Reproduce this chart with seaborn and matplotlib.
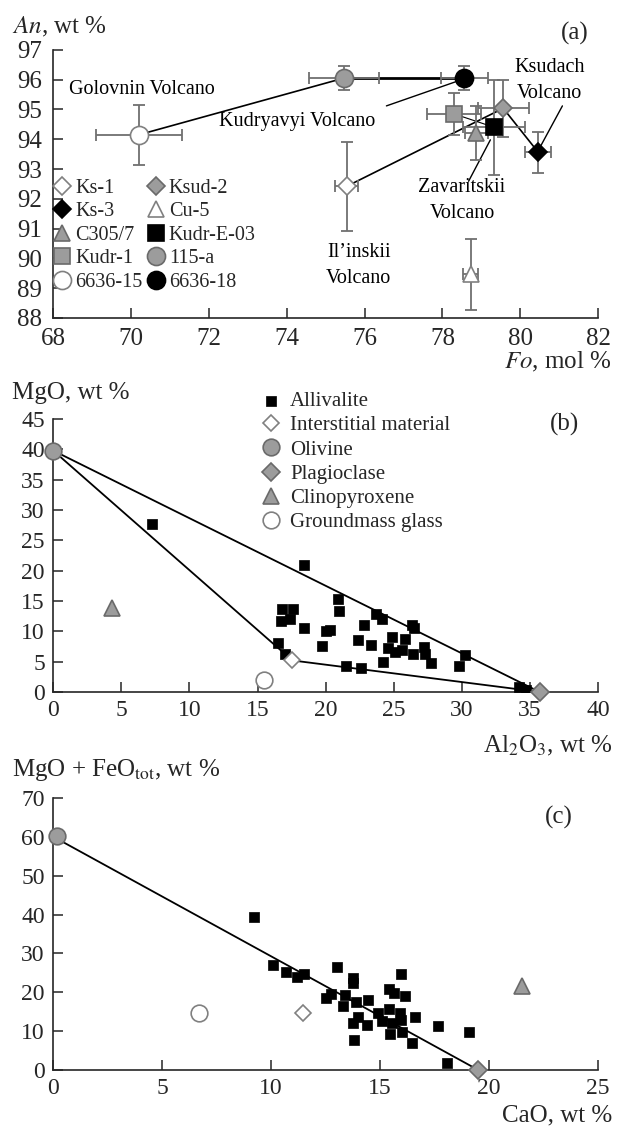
import numpy as np
import pandas as pd
import seaborn as sns
import matplotlib
matplotlib.use('Agg')
import matplotlib.pyplot as plt

# ---- panel (a): An vs Fo for individual samples
samples = ['Ks-1', 'Ks-3', 'C305/7', 'Kudr-1', '6636-15',
           'Ksud-2', 'Cu-5', 'Kudr-E-03', '115-a', '6636-18']
fo = [75.54, 80.46, 78.87, 78.30, 70.20, 79.56, 78.72, 79.33, 75.46, 78.56]
fo_err = [0.30, 0.33, 0.30, 0.70, 1.10, 0.65, 0.20, 0.80, 0.90, 0.60]
an = [92.42, 93.56, 94.20, 94.85, 94.15, 95.04, 89.46, 94.40, 96.05, 96.05]
an_err = [1.50, 0.70, 0.90, 0.70, 1.00, 0.95, 1.20, 1.60, 0.40, 0.40]

# ---- panel (b): MgO vs Al2O3
allv_al2o3 = [7.25, 18.4, 20.9, 20.95, 16.8, 17.6, 16.7, 17.4, 18.4, 20.3, 19.7, 16.5,
              17.0, 21.5, 22.6, 22.4, 22.8, 23.3, 24.1, 24.2, 24.9, 24.6, 25.1, 25.8,
              25.6, 26.5, 26.4, 27.2, 27.3, 27.7, 30.2, 29.8, 34.2, 34.7, 20.0, 23.7, 26.3]
allv_mgo = [27.7, 20.9, 15.3, 13.3, 13.6, 13.6, 11.7, 12.0, 10.5, 10.2, 7.5, 8.0,
            6.2, 4.2, 4.0, 8.5, 11.0, 7.7, 12.1, 5.0, 9.1, 7.2, 6.6, 8.8,
            7.0, 10.5, 6.3, 7.4, 6.3, 4.8, 6.1, 4.3, 0.8, 0.3, 10.1, 12.8, 11.0]
min_names = ['Interstitial material', 'Olivine', 'Plagioclase', 'Clinopyroxene', 'Groundmass glass']
min_al2o3 = [17.55, 0.0, 35.7, 4.3, 15.5]
min_mgo = [5.2, 39.8, 0.0, 13.8, 1.9]

# ---- panel (c): MgO+FeO vs CaO
allv_cao = [9.23, 10.09, 10.66, 11.2, 11.5, 13.0, 12.75, 12.5, 13.4, 13.3, 13.77, 13.77,
            13.9, 14.43, 13.77, 13.8, 14.0, 14.4, 14.9, 15.1, 15.4, 15.4, 15.65, 15.97,
            16.15, 15.44, 15.56, 15.97, 16.0, 16.6, 16.46, 17.66, 19.07, 18.08, 15.9]
allv_mgfe = [39.5, 26.9, 25.2, 23.9, 24.7, 26.6, 19.6, 18.6, 19.3, 16.5, 22.3, 23.6,
             17.6, 18.0, 12.0, 7.7, 13.7, 11.6, 14.6, 12.7, 15.6, 20.9, 19.7, 24.7,
             19.0, 9.2, 12.2, 13.0, 9.9, 13.7, 6.9, 11.3, 9.9, 1.7, 14.6]
min_cao = [11.44, 0.18, 19.5, 21.5, 6.68]
min_mgfe = [14.6, 60.1, 0.0, 21.6, 14.8]

GRAY = '#9c9c9c'
EDGE = '#6a6a6a'
OPEN = '#808080'

sns.set_style('ticks')
plt.rcParams['font.family'] = ['Liberation Serif', 'DejaVu Serif']
plt.rcParams['mathtext.fontset'] = 'stix'
plt.rcParams['axes.linewidth'] = 1.2

fig = plt.figure(figsize=(6.18, 11.34), dpi=100)
L, W = 0.086, 0.882
ax1 = fig.add_axes([L, 0.7196, W, 0.2364])
ax2 = fig.add_axes([L, 0.3898, W, 0.2407])
ax3 = fig.add_axes([L, 0.0564, W, 0.2399])

for ax in (ax1, ax2, ax3):
    sns.despine(ax=ax)
    ax.tick_params(direction='in', length=7, width=1.1, labelsize=17)
ax1.tick_params(labelsize=18)
ax1.tick_params(axis='x', pad=7)
ax1.tick_params(axis='y', pad=8)
for ax in (ax2, ax3):
    ax.tick_params(axis='x', pad=6)
    ax.tick_params(axis='y', pad=6)

# ---- (a)
style_a = {
    'Ks-1': ('D', 'white', OPEN, 9), 'Ks-3': ('D', 'black', 'black', 9),
    'C305/7': ('^', GRAY, EDGE, 12), 'Kudr-1': ('s', GRAY, EDGE, 12),
    '6636-15': ('o', 'white', OPEN, 13), 'Ksud-2': ('D', GRAY, EDGE, 9),
    'Cu-5': ('^', 'white', OPEN, 12), 'Kudr-E-03': ('s', 'black', 'black', 12),
    '115-a': ('o', GRAY, EDGE, 13), '6636-18': ('o', 'black', 'black', 13),
}
pos = dict(zip(samples, zip(fo, an)))

def link(a, b, lw=1.2):
    ax1.plot([pos[a][0], pos[b][0]], [pos[a][1], pos[b][1]], color='black', lw=lw, zorder=2)

link('6636-15', '115-a')
link('115-a', '6636-18', lw=2)
link('Ks-1', 'Ksud-2')
link('Ksud-2', 'Ks-3')
link('Kudr-1', 'Kudr-E-03', lw=0.8)

for s, x, xe, y, ye in zip(samples, fo, fo_err, an, an_err):
    m, fc, ec, ms = style_a[s]
    ax1.errorbar(x, y, xerr=xe, yerr=ye, fmt='none', ecolor='#707070',
                 elinewidth=1.3, capsize=4, capthick=1.3, zorder=3)
    ax1.plot(x, y, marker=m, ms=ms, mfc=fc, mec=ec, mew=1.2, ls='none',
             label=s, zorder=4)

ax1.set_xlim(68, 82)
ax1.set_ylim(88, 97)
ax1.set_xticks(np.arange(68, 83, 2))
ax1.set_yticks(np.arange(88, 98, 1))
ax1.legend(loc='upper left', bbox_to_anchor=(0.0, 0.52), ncol=2, frameon=False,
           fontsize=14.5, handlelength=0.9, handletextpad=0.2, columnspacing=0.2,
           labelspacing=0.22, borderpad=0, borderaxespad=0)

tk = dict(fontsize=14.5, color='black')
ax1.text(68.4, 95.66, 'Golovnin Volcano', va='center', ha='left', **tk)
ax1.text(74.26, 94.6, 'Kudryavyi Volcano', va='center', ha='center', **tk)
ax1.plot([76.56, 78.36], [95.12, 95.94], color='black', lw=1)
ax1.text(80.75, 95.97, 'Ksudach\nVolcano', va='center', ha='center', linespacing=1.5, **tk)
ax1.plot([81.08, 80.5], [95.12, 93.72], color='black', lw=1)
ax1.text(78.5, 91.93, 'Zavaritskii\nVolcano', va='center', ha='center', linespacing=1.5, **tk)
ax1.plot([78.67, 79.23], [92.59, 93.98], color='black', lw=1)
ax1.text(75.85, 89.77, 'Il\u2019inskii\nVolcano', va='center', ha='center', linespacing=1.5, **tk)
ax1.text(81.75, 97.55, '(a)', ha='right', va='center', fontsize=18, clip_on=False)

# ---- (b)
dfb = pd.DataFrame({'Al2O3': allv_al2o3, 'MgO': allv_mgo})
ol, plag, inter = (min_al2o3[1], min_mgo[1]), (min_al2o3[2], min_mgo[2]), (min_al2o3[0], min_mgo[0])
ax2.plot([ol[0], inter[0], plag[0], ol[0]], [ol[1], inter[1], plag[1], ol[1]],
         color='black', lw=1.3, zorder=2)
sns.scatterplot(data=dfb, x='Al2O3', y='MgO', marker='s', s=45, color='black',
                edgecolor='black', linewidth=0.5, ax=ax2, label='Allivalite', zorder=3)

min_style = {
    'Interstitial material': ('D', 'white', OPEN, 8),
    'Olivine': ('o', GRAY, EDGE, 12),
    'Plagioclase': ('D', GRAY, EDGE, 9),
    'Clinopyroxene': ('^', GRAY, EDGE, 12),
    'Groundmass glass': ('o', 'white', OPEN, 12),
}

def minerals(ax, xs, ys, with_label):
    for n, x, y in zip(min_names, xs, ys):
        m, fc, ec, ms = min_style[n]
        ax.plot(x, y, marker=m, ms=ms, mfc=fc, mec=ec, mew=1.2, ls='none',
                label=n if with_label else None, clip_on=False, zorder=5)

minerals(ax2, min_al2o3, min_mgo, True)
ax2.set_xlim(0, 40)
ax2.set_ylim(0, 45)
ax2.set_xticks(np.arange(0, 41, 5))
ax2.set_yticks(np.arange(0, 46, 5))
ax2.set_xlabel('')
ax2.set_ylabel('')
h, l = ax2.get_legend_handles_labels()
order = ['Allivalite', 'Interstitial material', 'Olivine', 'Plagioclase', 'Clinopyroxene', 'Groundmass glass']
hd = dict(zip(l, h))
ax2.legend([hd[k] for k in order], order, loc='upper left', bbox_to_anchor=(0.385, 1.1),
           frameon=False, fontsize=15, handlelength=0.8, handletextpad=0.5,
           labelspacing=0.22, borderpad=0, borderaxespad=0)
ax2.text(37.5, 44.1, '(b)', ha='center', va='center', fontsize=18)

# ---- (c)
dfc = pd.DataFrame({'CaO': allv_cao, 'MgOFeO': allv_mgfe})
ax3.plot([min_cao[1], min_cao[2]], [59.5, min_mgfe[2]], color='black', lw=1.3, zorder=2)
sns.scatterplot(data=dfc, x='CaO', y='MgOFeO', marker='s', s=60, color='black',
                edgecolor='black', linewidth=0.5, ax=ax3, legend=False, zorder=3)
minerals(ax3, min_cao, min_mgfe, False)
ax3.set_xlim(0, 25)
ax3.set_ylim(0, 70)
ax3.set_xticks(np.arange(0, 26, 5))
ax3.set_yticks(np.arange(0, 71, 10))
ax3.set_xlabel('')
ax3.set_ylabel('')
ax3.text(23.2, 65.1, '(c)', ha='center', va='center', fontsize=18)

# ---- axis titles
fig.text(0.02, 0.976, r'$\mathit{An}$, wt %', fontsize=18, va='center', ha='left')
fig.text(0.99, 0.681, r'$\mathit{Fo}$, mol %', fontsize=18, va='center', ha='right')
fig.text(0.02, 0.653, 'MgO, wt %', fontsize=18, va='center', ha='left')
fig.text(0.99, 0.342, r'Al$_2$O$_3$, wt %', fontsize=18, va='center', ha='right')
fig.text(0.02, 0.321, r'MgO + FeO$_{\mathrm{tot}}$, wt %', fontsize=18, va='center', ha='left')
fig.text(0.99, 0.016, 'CaO, wt %', fontsize=18, va='center', ha='right')

fig.savefig('out.png', dpi=100)
